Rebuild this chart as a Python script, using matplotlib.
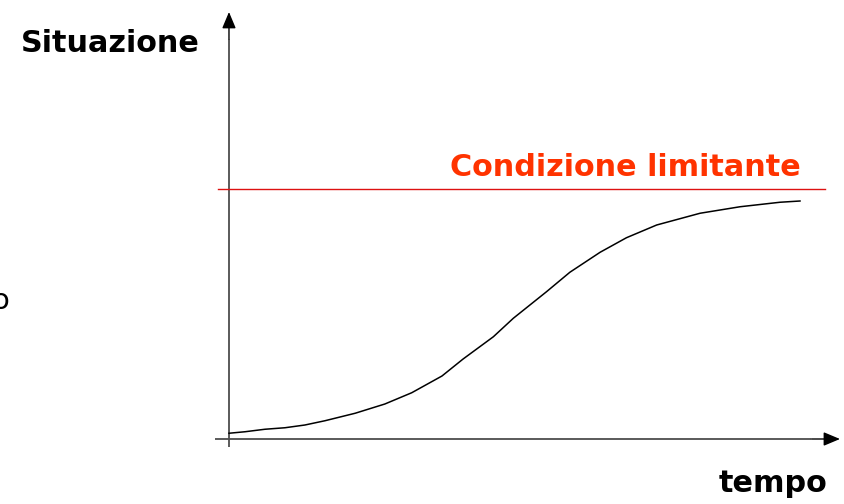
import matplotlib
matplotlib.use("Agg")
import matplotlib.pyplot as plt

# Logistic-type growth of the situation over time, approaching a limit
tempo = [0.0, 0.28, 0.63, 0.98, 1.33, 1.68, 2.21, 2.73, 3.20, 3.73, 4.10, 4.63,
         4.98, 5.27, 5.56, 5.97, 6.50, 6.96, 7.49, 8.25, 8.95, 9.65, 10.0]
situazione = [0.023, 0.029, 0.039, 0.045, 0.056, 0.073, 0.103, 0.140, 0.185, 0.252,
              0.320, 0.409, 0.483, 0.536, 0.589, 0.667, 0.747, 0.805, 0.856, 0.903,
              0.929, 0.947, 0.952]
limite = 1.0

fig = plt.figure(figsize=(8.45, 5.04), dpi=100)
ax = fig.add_axes([0, 0, 1, 1])
ax.set_xlim(-4.01, 10.788)
ax.set_ylim(-0.26, 1.756)
ax.axis("off")

axis_grey = "#4d4d4d"

# Vertical axis with arrowhead
ax.plot([0, 0], [-0.032, 1.60], color=axis_grey, lw=1.3, solid_capstyle="butt")
ax.annotate("", xy=(0, 1.708), xytext=(0, 1.60),
            arrowprops=dict(arrowstyle="-|>,head_length=1.0,head_width=0.42",
                            color="black", lw=1.0, shrinkA=0, shrinkB=0))

# Horizontal axis with arrowhead
ax.plot([-0.245, 10.2], [0, 0], color=axis_grey, lw=1.3, solid_capstyle="butt")
ax.annotate("", xy=(10.70, 0), xytext=(10.2, 0),
            arrowprops=dict(arrowstyle="-|>,head_length=1.0,head_width=0.42",
                            color="black", lw=1.0, shrinkA=0, shrinkB=0))

# Limiting condition
ax.plot([-0.19, 10.44], [limite, limite], color="#dd1111", lw=1.0)

# Growth curve
ax.plot(tempo, situazione, color="black", lw=1.1)

ax.text(10.02, limite + 0.05, "Condizione limitante", color="#ff3300",
        fontsize=21.8, fontweight="bold", ha="right", va="baseline")
ax.text(-0.52, 1.55, "Situazione", color="black",
        fontsize=21.8, fontweight="bold", ha="right", va="baseline")
ax.text(10.48, -0.212, "tempo", color="black",
        fontsize=21.8, fontweight="bold", ha="right", va="baseline")
ax.text(-4.01, 0.52, "o", color="black", fontsize=21, ha="center", va="baseline")

fig.savefig("out.png", dpi=100)
